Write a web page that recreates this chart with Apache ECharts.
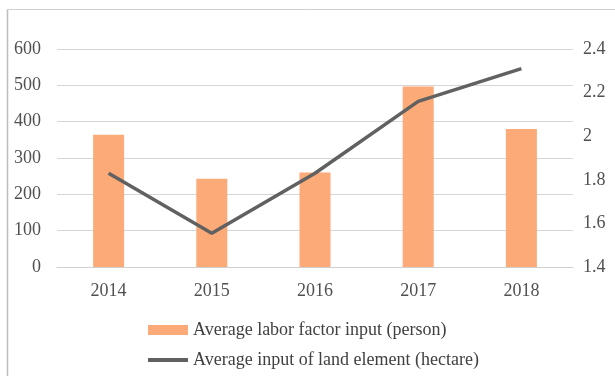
<!DOCTYPE html>
<html>
<head>
<meta charset="utf-8">
<script src="https://cdn.jsdelivr.net/npm/echarts@6/dist/echarts.min.js"></script>
<style>
  html, body { margin: 0; padding: 0; background: #fff; }
  #chart { width: 615px; height: 376px; }
</style>
</head>
<body>
<div id="chart"></div>
<script>
// data
const years = ['2014', '2015', '2016', '2017', '2018'];
const laborInput = [364, 243, 260, 497, 380];
const landInput = [1.83, 1.555, 1.83, 2.16, 2.31];
const leftTicks = [0, 600, 100];
const rightTicks = [1.4, 2.4, 0.2];

const font = '"Liberation Serif", "DejaVu Serif", serif';

function drawChart() {
    const chart = echarts.init(document.getElementById('chart'));

    const option = {
        animation: false,
        textStyle: { fontFamily: font },
        graphic: [
            { type: 'line', shape: { x1: 7.5, y1: 9.5, x2: 615, y2: 9.5 }, style: { stroke: '#cfcfcf', lineWidth: 1 } },
            { type: 'line', shape: { x1: 7.5, y1: 9.5, x2: 7.5, y2: 376 }, style: { stroke: '#bdbdbd', lineWidth: 1.5 } }
        ],
        grid: {
            left: 57,
            right: 42,
            top: 49,
            bottom: 109
        },
        legend: {
            orient: 'vertical',
            left: 141,
            top: 316,
            itemGap: 12,
            itemWidth: 40,
            itemHeight: 10,
            textStyle: { fontFamily: font, fontSize: 18, color: '#404040' },
            data: [
                { name: 'Average labor factor input (person)', icon: 'rect' },
                {
                    name: 'Average input of land element (hectare)',
                    itemStyle: { opacity: 0 },
                    lineStyle: { width: 4, color: '#616161' }
                }
            ]
        },
        xAxis: {
            type: 'category',
            data: years,
            axisLine: { lineStyle: { color: '#d0d0d0', width: 1 } },
            axisTick: { show: false },
            axisLabel: { fontFamily: font, fontSize: 18, color: '#505050', margin: 15 }
        },
        yAxis: [
            {
                type: 'value',
                min: leftTicks[0],
                max: leftTicks[1],
                interval: leftTicks[2],
                axisLine: { show: false },
                axisTick: { show: false },
                splitLine: { lineStyle: { color: '#d6d6d6', width: 1 } },
                axisLabel: { fontFamily: font, fontSize: 18, color: '#505050', margin: 16 }
            },
            {
                type: 'value',
                min: rightTicks[0],
                max: rightTicks[1],
                interval: rightTicks[2],
                axisLine: { show: false },
                axisTick: { show: false },
                splitLine: { show: false },
                axisLabel: {
                    fontFamily: font, fontSize: 18, color: '#505050', margin: 10,
                    formatter: v => String(Math.round(v * 10) / 10)
                }
            }
        ],
        series: [
            {
                name: 'Average labor factor input (person)',
                type: 'bar',
                data: laborInput,
                barWidth: 31,
                itemStyle: { color: '#fcaa78' }
            },
            {
                name: 'Average input of land element (hectare)',
                type: 'line',
                yAxisIndex: 1,
                data: landInput,
                symbol: 'none',
                lineStyle: { color: '#616161', width: 3.5 },
                itemStyle: { color: '#616161' }
            }
        ]
    };

    chart.setOption(option);
}

drawChart();
</script>
</body>
</html>
